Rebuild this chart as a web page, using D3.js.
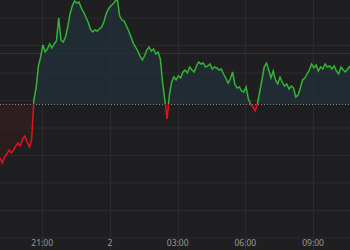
<!DOCTYPE html>
<html>
<head>
<meta charset="utf-8">
<script src="https://cdn.jsdelivr.net/npm/d3@7"></script>
<style>
  body { margin: 0; background: #1f1f21; }
  svg { display: block; }
</style>
</head>
<body>
<div id="chart"></div>
<script>
// change vs previous close, one value every 6 minutes from 19:08
var startTime = new Date(2024, 0, 1, 19, 8);
var stepMinutes = 6;
var prevClose = 0;
var changes = [
  -54, -59, -53, -50, -46, -49, -46, -42, -39, -42, -35, -32, -38, -43, -36, 4,
  16, 38, 47, 59, 52, 55, 60, 56, 60, 63, 86, 64, 62, 67, 77, 90,
  98, 103, 101, 102, 96, 92, 87, 82, 75, 72, 74, 73, 75, 77, 82, 90,
  95, 98, 100, 103, 104, 88, 84, 83, 78, 73, 67, 61, 57, 53, 48, 44,
  48, 54, 57, 53, 55, 50, 52, 45, 22, 4, -15, 9, 22, 27, 24, 28,
  26, 32, 34, 31, 37, 34, 32, 38, 42, 40, 41, 37, 38, 40, 35, 37,
  36, 34, 35, 30, 26, 21, 25, 32, 20, 16, 17, 13, 12, 17, 5, 0,
  -3, -7, 0, 12, 24, 37, 41, 34, 26, 33, 24, 20, 27, 22, 18, 20,
  15, 18, 16, 7, 9, 16, 24, 26, 30, 34, 40, 36, 39, 33, 37, 35,
  40, 37, 38, 35, 38, 33, 30, 37, 34, 32, 35, 38
];
var gridValues = [86.5, 59, 31.5, 4, -23.5, -51, -78.5, -106, -133.5];
var markValue = 51;

var width = 350, height = 250;

var data = changes.map(function (v, i) {
  return { t: new Date(startTime.getTime() + i * stepMinutes * 60000), v: v };
});

var x = d3.scaleTime()
  .domain([data[0].t, data[data.length - 1].t])
  .range([0, width]);

var y = d3.scaleLinear()
  .domain([-146, 104])
  .range([height, 0]);

var svg = d3.select("#chart")
  .append("svg")
    .attr("width", width)
    .attr("height", height)
    .style("background", "#1f1f21");

// grid
svg.append("g")
  .selectAll("line")
  .data(gridValues)
  .enter()
  .append("line")
    .attr("x1", 0).attr("x2", width)
    .attr("y1", function (d) { return y(d) + 0.5; })
    .attr("y2", function (d) { return y(d) + 0.5; })
    .style("stroke", "#2c2c2f");

svg.append("line")
  .attr("x1", 0).attr("x2", width)
  .attr("y1", Math.round(y(markValue)) + 0.5)
  .attr("y2", Math.round(y(markValue)) + 0.5)
  .style("stroke", "#333436");

var ticks = x.ticks(d3.timeHour.every(3));

svg.append("g")
  .selectAll("line")
  .data(ticks)
  .enter()
  .append("line")
    .attr("x1", function (d) { return Math.round(x(d)) + 0.5; })
    .attr("x2", function (d) { return Math.round(x(d)) + 0.5; })
    .attr("y1", 0).attr("y2", height)
    .style("stroke", "#2c2c2f");

// clips above / below the previous close
var base = y(prevClose);
svg.append("clipPath").attr("id", "above")
  .append("rect").attr("x", 0).attr("y", 0).attr("width", width).attr("height", base);
svg.append("clipPath").attr("id", "below")
  .append("rect").attr("x", 0).attr("y", base).attr("width", width).attr("height", height - base);

var area = d3.area()
  .x(function (d) { return x(d.t); })
  .y0(base)
  .y1(function (d) { return y(d.v); });

var line = d3.line()
  .x(function (d) { return x(d.t); })
  .y(function (d) { return y(d.v); });

var defs = svg.append("defs");
var redGrad = defs.append("linearGradient")
  .attr("id", "redFill")
  .attr("x1", 0).attr("y1", 0).attr("x2", 0).attr("y2", 1);
redGrad.append("stop").attr("offset", "0%").attr("stop-color", "#5a1c1c").attr("stop-opacity", 0.55);
redGrad.append("stop").attr("offset", "100%").attr("stop-color", "#3a1c1c").attr("stop-opacity", 0.35);

svg.append("path")
  .datum(data)
  .attr("clip-path", "url(#above)")
  .attr("d", area)
  .style("fill", "#22303a")
  .style("opacity", 0.75);

svg.append("path")
  .datum(data)
  .attr("clip-path", "url(#below)")
  .attr("d", area)
  .style("fill", "url(#redFill)");

// previous close
svg.append("line")
  .attr("x1", 0).attr("x2", width)
  .attr("y1", base + 0.5).attr("y2", base + 0.5)
  .style("stroke", "#8a8a8a")
  .style("stroke-dasharray", "1,2");

svg.append("path")
  .datum(data)
  .attr("clip-path", "url(#above)")
  .attr("d", line)
  .style("fill", "none")
  .style("stroke", "#32b532")
  .style("stroke-width", 1.5);

svg.append("path")
  .datum(data)
  .attr("clip-path", "url(#below)")
  .attr("d", line)
  .style("fill", "none")
  .style("stroke", "#e0141c")
  .style("stroke-width", 1.5);

// time labels
var fmt = function (d) {
  return d.getHours() === 0 ? d3.timeFormat("%-d")(d) : d3.timeFormat("%H:%M")(d);
};
svg.append("g")
  .selectAll("text")
  .data(ticks)
  .enter()
  .append("text")
    .attr("x", function (d) { return x(d); })
    .attr("y", 246)
    .attr("text-anchor", "middle")
    .style("font-family", "'Noto Sans', sans-serif")
    .style("font-size", "8.5px")
    .style("fill", "#9a9a9a")
    .text(fmt);
</script>
</body>
</html>
